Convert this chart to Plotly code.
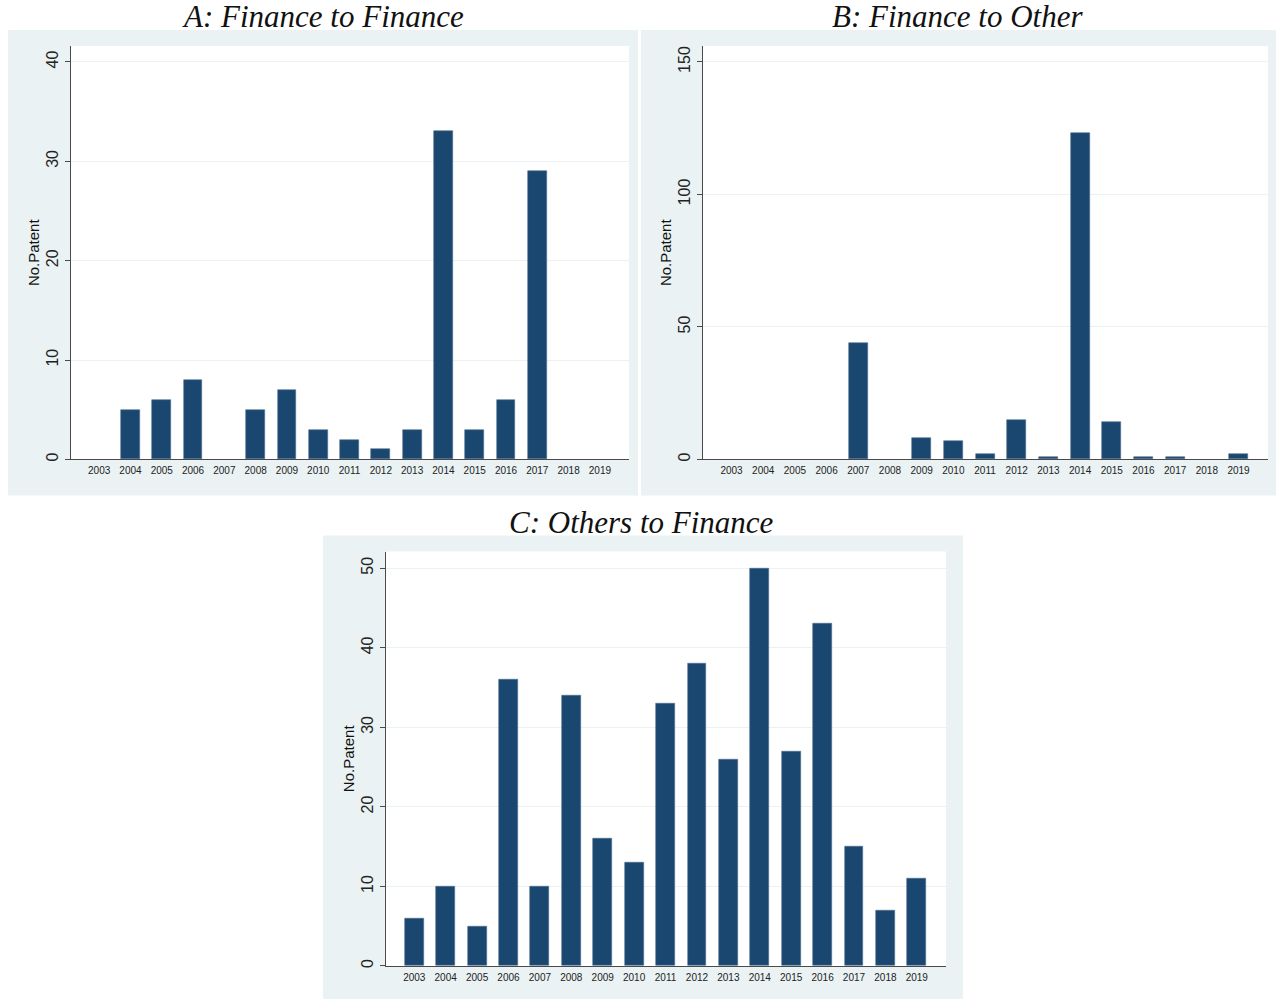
import plotly.graph_objects as go

W, H = 1276, 999
H_EFF = 996  # vertical pixel scale used when placing domains and shapes

years = list(range(2003, 2020))
year_labels = [str(y) for y in years]

fin_to_fin = [0, 5, 6, 8, 0, 5, 7, 3, 2, 1, 3, 33, 3, 6, 29, 0, 0]
fin_to_other = [0, 0, 0, 0, 44, 0, 8, 7, 2, 15, 1, 123, 14, 1, 1, 0, 2]
others_to_fin = [6, 10, 5, 36, 10, 34, 16, 13, 33, 38, 26, 50, 27, 43, 15, 7, 11]

panel_titles = ["A: Finance to Finance", "B: Finance to Other", "C: Others to Finance"]
y_ticks = [[0, 10, 20, 30, 40], [0, 50, 100, 150], [0, 10, 20, 30, 40, 50]]
y_tops = [41.6, 156, 52.1]

BAR = "#1a476f"
REGION = "#eaf2f3"
AXIS = "#4a4a4a"


def px_x(p):
    return p / W


def px_y(p):
    return 1 - p / H_EFF


# plot areas and outer regions in pixels: (left, top, right, bottom)
plot_boxes = [(71, 46, 629, 459), (703, 46, 1268, 459), (386, 551, 946, 965)]
region_boxes = [(8, 30, 638, 495), (641, 30, 1276, 495), (323, 535, 963, 1002)]
title_pos = [(323, 16), (957, 16), (641, 522)]

series = [fin_to_fin, fin_to_other, others_to_fin]

fig = go.Figure()
shapes = []
annotations = []
layout = {}

for i in range(3):
    sfx = "" if i == 0 else str(i + 1)
    l, t, r, b = plot_boxes[i]
    vals = series[i]
    fig.add_trace(go.Bar(
        x=[yr for yr, v in zip(years, vals) if v > 0],
        y=[v for v in vals if v > 0],
        width=0.6,
        marker=dict(color=BAR, line=dict(width=0.6, color="#4f6f8f")),
        xaxis="x" + sfx, yaxis="y" + sfx, showlegend=False,
    ))
    layout["xaxis" + sfx] = dict(
        domain=[px_x(l), px_x(r)], anchor="y" + sfx,
        range=[2003 - 0.9, 2019 + 0.93],
        tickmode="array", tickvals=years, ticktext=year_labels,
        tickfont=dict(family="Liberation Sans, Arial", size=10, color="#222"),
        showgrid=False, zeroline=False, showline=True, linecolor=AXIS, linewidth=1,
        ticks="", ticklabelstandoff=2, fixedrange=True,
    )
    layout["yaxis" + sfx] = dict(
        domain=[px_y(b), px_y(t)], anchor="x" + sfx,
        range=[0, y_tops[i]],
        tickmode="array", tickvals=y_ticks[i],
        tickangle=-90,
        tickfont=dict(family="Liberation Sans, Arial", size=16, color="#222"),
        ticks="outside", ticklen=5, tickcolor=AXIS, ticklabelstandoff=1,
        showgrid=True, gridcolor=REGION, gridwidth=1,
        zeroline=False, showline=True, linecolor=AXIS, linewidth=1,
        title=dict(text="No.Patent", standoff=0,
                   font=dict(family="Liberation Sans, Arial", size=15, color="#111")),
        fixedrange=True,
    )
    rl, rt, rr, rb = region_boxes[i]
    shapes.append(dict(type="rect", xref="paper", yref="paper", layer="below",
                       x0=px_x(rl), x1=px_x(rr), y0=px_y(rb), y1=px_y(rt),
                       fillcolor=REGION, line=dict(width=0)))
    shapes.append(dict(type="rect", xref="paper", yref="paper", layer="below",
                       x0=px_x(l), x1=px_x(r), y0=px_y(b), y1=px_y(t),
                       fillcolor="white", line=dict(width=0)))
    tx, ty = title_pos[i]
    annotations.append(dict(text="<i>" + panel_titles[i] + "</i>", xref="paper", yref="paper",
                            x=px_x(tx), y=px_y(ty), xanchor="center", yanchor="middle",
                            showarrow=False,
                            font=dict(family="Liberation Serif, DejaVu Serif", size=31, color="#111")))

fig.update_layout(
    width=W, height=H, margin=dict(l=0, r=0, t=0, b=0),
    paper_bgcolor="white", plot_bgcolor="rgba(0,0,0,0)",
    bargap=0, shapes=shapes, annotations=annotations,
    **layout,
)

fig.write_html("out.html")
